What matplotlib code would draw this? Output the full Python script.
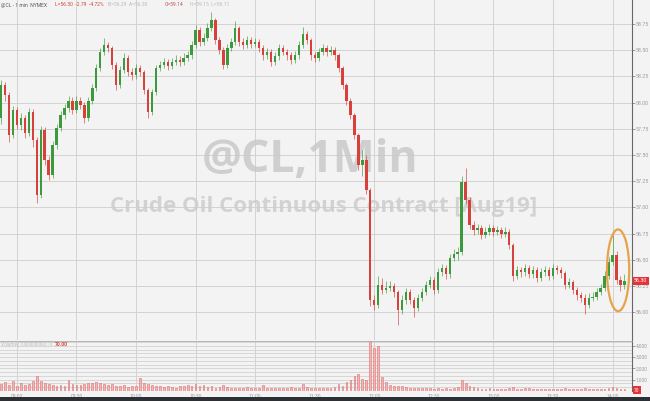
import matplotlib
matplotlib.use("Agg")
import matplotlib.pyplot as plt
from matplotlib.patches import Ellipse, Rectangle
import numpy as np

# ---------------- data ----------------
first_open = 57.85
closes = [58.17, 58.07, 57.69, 57.93, 57.79, 57.85, 57.71, 57.91, 57.64, 57.12,
          57.74, 57.45, 57.31, 57.60, 57.76, 57.88, 57.95, 58.02, 57.93, 58.02,
          57.98, 57.85, 58.02, 58.14, 58.33, 58.48, 58.55, 58.52, 58.36, 58.17,
          58.31, 58.43, 58.29, 58.26, 58.33, 58.29, 58.12, 57.91, 58.10, 58.33,
          58.36, 58.39, 58.35, 58.39, 58.41, 58.39, 58.43, 58.45, 58.55, 58.69,
          58.58, 58.62, 58.71, 58.79, 58.60, 58.50, 58.36, 58.52, 58.58, 58.71,
          58.58, 58.55, 58.60, 58.56, 58.58, 58.52, 58.45, 58.48, 58.39, 58.44,
          58.52, 58.48, 58.45, 58.41, 58.45, 58.55, 58.65, 58.60, 58.45, 58.43,
          58.48, 58.52, 58.48, 58.50, 58.45, 58.33, 58.17, 58.02, 57.88, 57.69,
          57.40, 57.45, 57.17, 56.12, 56.07, 56.26, 56.21, 56.23, 56.25, 56.19,
          56.02, 56.12, 56.19, 56.12, 56.04, 56.14, 56.19, 56.26, 56.31, 56.21,
          56.38, 56.42, 56.36, 56.52, 56.56, 56.57, 57.24, 57.07, 56.83, 56.78,
          56.80, 56.74, 56.77, 56.80, 56.77, 56.78, 56.75, 56.77, 56.64, 56.35,
          56.40, 56.38, 56.42, 56.36, 56.40, 56.33, 56.38, 56.40, 56.35, 56.42,
          56.40, 56.37, 56.26, 56.29, 56.21, 56.16, 56.14, 56.07, 56.14, 56.15,
          56.19, 56.23, 56.35, 56.48, 56.55, 56.31, 56.26, 56.30]
highs = [58.22, 58.20, 58.10, 57.97, 57.96, 57.90, 57.88, 57.95, 57.94, 57.67,
         57.78, 57.77, 57.49, 57.63, 57.80, 57.92, 57.99, 58.06, 58.05, 58.06,
         58.05, 58.01, 58.05, 58.18, 58.37, 58.52, 58.62, 58.58, 58.54, 58.39,
         58.35, 58.47, 58.45, 58.33, 58.37, 58.36, 58.31, 58.14, 58.13, 58.36,
         58.40, 58.43, 58.42, 58.43, 58.45, 58.44, 58.47, 58.49, 58.59, 58.74,
         58.72, 58.66, 58.76, 58.86, 58.81, 58.63, 58.53, 58.56, 58.62, 58.78,
         58.73, 58.62, 58.64, 58.63, 58.62, 58.61, 58.55, 58.52, 58.51, 58.48,
         58.56, 58.55, 58.51, 58.48, 58.49, 58.59, 58.72, 58.68, 58.62, 58.48,
         58.52, 58.56, 58.55, 58.54, 58.53, 58.47, 58.35, 58.19, 58.04, 57.90,
         57.71, 57.55, 57.50, 57.19, 56.16, 56.35, 56.33, 56.30, 56.30, 56.28,
         56.21, 56.16, 56.23, 56.22, 56.15, 56.17, 56.23, 56.30, 56.35, 56.34,
         56.42, 56.46, 56.45, 56.56, 56.60, 56.62, 57.30, 57.38, 57.10, 56.87,
         56.84, 56.83, 56.81, 56.84, 56.83, 56.82, 56.81, 56.81, 56.79, 56.66,
         56.44, 56.43, 56.46, 56.45, 56.44, 56.43, 56.42, 56.44, 56.43, 56.46,
         56.45, 56.43, 56.39, 56.33, 56.31, 56.24, 56.19, 56.17, 56.18, 56.19,
         56.23, 56.27, 56.39, 56.53, 56.74, 56.58, 56.35, 56.36]
lows = [57.80, 58.02, 57.62, 57.66, 57.75, 57.74, 57.66, 57.68, 57.58, 57.04,
        57.09, 57.40, 57.26, 57.28, 57.56, 57.73, 57.84, 57.91, 57.89, 57.90,
        57.94, 57.81, 57.82, 57.99, 58.11, 58.30, 58.45, 58.48, 58.32, 58.12,
        58.14, 58.28, 58.25, 58.22, 58.23, 58.25, 58.08, 57.85, 57.88, 58.07,
        58.30, 58.33, 58.31, 58.32, 58.36, 58.35, 58.36, 58.40, 58.42, 58.52,
        58.54, 58.55, 58.59, 58.68, 58.56, 58.46, 58.32, 58.33, 58.49, 58.55,
        58.54, 58.51, 58.52, 58.52, 58.53, 58.48, 58.41, 58.42, 58.35, 58.36,
        58.41, 58.45, 58.41, 58.37, 58.38, 58.42, 58.52, 58.56, 58.41, 58.39,
        58.40, 58.45, 58.44, 58.45, 58.41, 58.29, 58.13, 57.98, 57.84, 57.65,
        57.36, 57.30, 57.13, 56.06, 56.02, 56.04, 56.17, 56.18, 56.20, 56.15,
        55.88, 55.98, 56.08, 56.08, 55.95, 56.01, 56.11, 56.16, 56.23, 56.17,
        56.18, 56.35, 56.32, 56.33, 56.49, 56.50, 56.55, 57.03, 56.79, 56.74,
        56.75, 56.70, 56.71, 56.74, 56.73, 56.74, 56.71, 56.72, 56.60, 56.30,
        56.32, 56.34, 56.35, 56.33, 56.33, 56.29, 56.30, 56.35, 56.31, 56.32,
        56.36, 56.33, 56.22, 56.23, 56.17, 56.12, 56.10, 55.98, 56.04, 56.11,
        56.12, 56.16, 56.20, 56.32, 56.45, 56.27, 56.20, 56.22]
volumes = [600, 800, 500, 900, 400, 700, 500, 600, 900, 1300,
           900, 700, 600, 500, 400, 500, 450, 1000, 600, 500,
           500, 600, 700, 700, 800, 750, 650, 500, 600, 450,
           400, 500, 350, 400, 450, 1150, 700, 600, 500, 450,
           400, 350, 400, 350, 300, 400, 450, 500, 400, 600,
           450, 500, 350, 400, 300, 350, 500, 350, 300, 300,
           250, 300, 350, 300, 250, 300, 550, 300, 250, 300,
           300, 250, 300, 350, 300, 250, 600, 350, 300, 250,
           250, 300, 250, 300, 350, 600, 400, 800, 1000, 1300,
           1500, 1100, 1000, 4400, 3800, 4000, 1200, 800, 500, 400,
           450, 400, 350, 300, 250, 300, 250, 300, 250, 200,
           250, 200, 250, 200, 300, 350, 1000, 700, 450, 350,
           250, 200, 200, 250, 200, 150, 200, 150, 250, 350,
           200, 150, 250, 300, 200, 150, 200, 150, 200, 150,
           150, 200, 250, 200, 150, 150, 200, 250, 150, 150,
           150, 150, 200, 300, 350, 250, 200, 150]
opens = [first_open] + closes[:-1]

time_ticks = [4, 19, 34, 49, 64, 79, 94, 109, 124, 139, 154]
time_labels = ["09:00", "09:30", "10:00", "10:30", "11:00", "11:30",
               "12:00", "12:30", "13:00", "13:30", "14:00"]
price_ticks = [56.00, 56.25, 56.50, 56.75, 57.00, 57.25, 57.50, 57.75,
               58.00, 58.25, 58.50, 58.75]
vol_ticks = [1000, 2000, 3000, 4000]
vol_tick_labels = ["1,000", "2,000", "3,000", "4,000"]
last_price = 56.30
last_volume = 70

# ---------------- styling ----------------
BG = "#f3f3f3"
GRID = "#d2d2d2"
GREEN = "#3c9a3c"
RED = "#d8403c"
TXT = "#9a9a9a"
SMALL = "Roboto"

W, H = 650, 401
fig = plt.figure(figsize=(6.5, 4.01), dpi=100)
fig.patch.set_facecolor(BG)

def frac_rect(x0, y0, x1, y1):
    return [x0 / W, 1 - y1 / H, (x1 - x0) / W, (y1 - y0) / H]

ax = fig.add_axes(frac_rect(0, 0, 632, 340))
axv = fig.add_axes(frac_rect(0, 341, 632, 391), sharex=ax)
for a in (ax, axv):
    a.set_facecolor(BG)
    for s in ("top", "left", "bottom"):
        a.spines[s].set_visible(False)
    a.spines["right"].set_color("#666666")
    a.spines["right"].set_linewidth(0.8)

n = len(closes)
idx = np.arange(n)
o = np.array(opens); c = np.array(closes)
hi = np.array(highs); lo = np.array(lows)
up = c >= o
cols = np.where(up, GREEN, RED)

ax.set_xlim(-0.25, 158.9)
ax.set_ylim(55.735, 58.979)

for p in price_ticks:
    ax.axhline(p, color=GRID, lw=0.7, zorder=0)
for t in time_ticks:
    ax.axvline(t, color=GRID, lw=0.7, zorder=0)
    axv.axvline(t, color=GRID, lw=0.7, zorder=0)

ax.vlines(idx, lo, hi, colors=cols, lw=0.6, alpha=0.75, zorder=2)
body_bottom = np.minimum(o, c)
body_h = np.maximum(np.abs(c - o), 0.006)
ax.bar(idx, body_h, bottom=body_bottom, width=0.6, color=cols, lw=0, zorder=3)

ax.yaxis.tick_right()
ax.set_yticks(price_ticks)
ax.set_yticklabels([f"{p:.2f}" for p in price_ticks], family=SMALL)
ax.tick_params(axis="y", length=2, width=0.5, colors="#777777", labelsize=3.8,
               labelcolor=TXT, pad=0.8)
ax.tick_params(axis="x", bottom=False, labelbottom=False)

# watermark
ax.text(0.490, 0.528, "@CL,1Min", transform=ax.transAxes, ha="center", va="center",
        fontsize=32, fontweight="bold", color="#c9c9c9", alpha=0.85,
        family="Open Sans", zorder=1)
ax.text(0.512, 0.392, "Crude Oil Continuous Contract [Aug19]", transform=ax.transAxes,
        ha="center", va="center", fontsize=16, fontweight="bold", color="#cdcdcd",
        alpha=0.85, family="Open Sans", zorder=1)

# header
hy = 1 - 5 / 340
hdr = [(1, "@CL - 1 min  NYMEX", "#555555"),
       (55, "L=56.30  -2.79  -4.72%", "#d8403c"),
       (108, "B=56.29  A=56.30", "#bbbbbb"),
       (165, "O=59.14", "#c05050"),
       (190, "H=59.15  L=56.11", "#bbbbbb")]
for xp, s, col in hdr:
    ax.text(xp / 632, hy, s, transform=ax.transAxes, fontsize=3.6, family=SMALL,
            color=col, va="center", ha="left")

# highlight ellipse
ax.add_patch(Ellipse((155.4, 56.40), 5.6, 0.78, fill=False, ec="#e6a34a",
                     lw=1.6, zorder=5))

# last price box
ax.annotate(f"{last_price:.2f}", xy=(1.0, last_price), xycoords=("axes fraction", "data"),
            xytext=(1.5, 0), textcoords="offset points", ha="left", va="center",
            fontsize=3.8, family=SMALL, color="white", annotation_clip=False,
            bbox=dict(boxstyle="square,pad=0.3", fc="#e8323a", ec="none"))

# volume panel
axv.set_ylim(0, 4425)
for v in np.arange(1000 / 3, 4425, 1000 / 3):
    axv.axhline(v, color=GRID, lw=0.6, zorder=0)
axv.bar(idx, volumes, width=0.45, color="#f1b5b5", edgecolor="#e07070", lw=0.4, zorder=2)
axv.yaxis.tick_right()
axv.set_yticks(vol_ticks)
axv.set_yticklabels(vol_tick_labels, family=SMALL)
axv.tick_params(axis="y", length=2, width=0.5, colors="#777777", labelsize=3.5,
                labelcolor=TXT, pad=0.8)
axv.set_xticks(time_ticks)
axv.set_xticklabels(time_labels, family=SMALL)
axv.tick_params(axis="x", length=0, labelsize=3.6, labelcolor=TXT, pad=2)
axv.text(1 / 632, 0.93, "Volume (1000000000) | V", transform=axv.transAxes,
         fontsize=3.3, family=SMALL, color="#bbbbbb", va="center", ha="left")
axv.text(55 / 632, 0.93, "70.00", transform=axv.transAxes, fontsize=3.6,
         family=SMALL, color="#d8403c", va="center", ha="left", fontweight="bold")
axv.annotate(f"{last_volume}", xy=(1.0, last_volume), xycoords=("axes fraction", "data"),
             xytext=(1.5, 0), textcoords="offset points", ha="left", va="center",
             fontsize=3.5, family=SMALL, color="white", annotation_clip=False,
             bbox=dict(boxstyle="square,pad=0.3", fc="#e8323a", ec="none"))

# separator line and bottom band
fig.add_artist(plt.Line2D([0, 632 / W], [1 - 340.5 / H, 1 - 340.5 / H],
                          color="#aaaaaa", lw=0.6))
fig.add_artist(Rectangle((0, 0), 1, 4.5 / H, transform=fig.transFigure,
                         fc="#2c3034", ec="none"))

fig.savefig("out.png", dpi=100, facecolor=BG)
